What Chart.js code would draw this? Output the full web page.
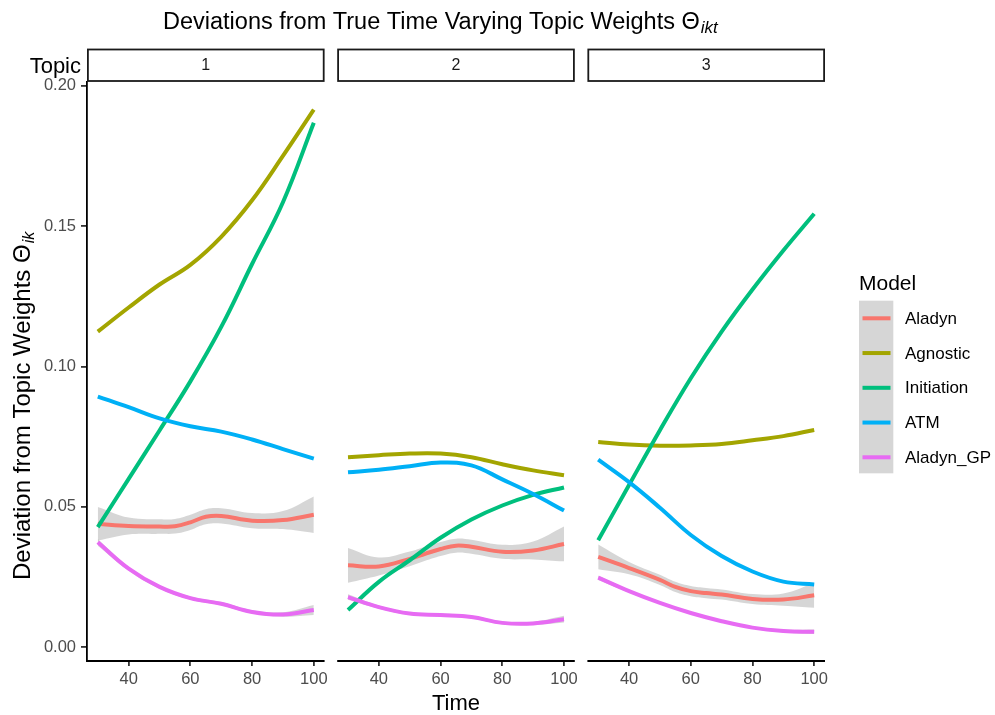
<!DOCTYPE html>
<html>
<head>
<meta charset="utf-8">
<script src="https://cdn.jsdelivr.net/npm/chart.js@4/dist/chart.umd.min.js"></script>
<style>
  html, body { margin: 0; padding: 0; background: #ffffff; }
  #wrap { position: relative; width: 995px; height: 715px; }
  canvas { display: block; }
</style>
</head>
<body>
<div id="wrap"><canvas id="c" width="995" height="715"></canvas></div>
<script>
// ---------------- data ----------------
const topics = ['1', '2', '3'];
const models = ['Aladyn', 'Agnostic', 'Initiation', 'ATM', 'Aladyn_GP'];
const modelColors = ['#F8766D', '#A3A500', '#00BF7D', '#00B0F6', '#E76BF3'];
const xTickValues = [40, 60, 80, 100];
const yTickValues = [0, 0.05, 0.10, 0.15, 0.20];

const time = [30, 40, 50, 60, 70, 80, 90, 100];
const timeFine = [30, 40, 50, 55, 60, 65, 70, 80, 90, 100];

// Topic 1
const aladyn1 = [0.0440, 0.0432, 0.0430, 0.0431, 0.0445, 0.0465, 0.0468, 0.0451, 0.0453, 0.0472];
const aladynSe1 = [0.0060, 0.0030, 0.0026, 0.0026, 0.0027, 0.0027, 0.0027, 0.0027, 0.0032, 0.0065];
const agnostic1 = [0.1124, 0.1210, 0.1292, 0.1362, 0.1462, 0.1592, 0.1750, 0.1915];
const initiation1 = [0.0428, 0.0600, 0.0772, 0.0947, 0.1141, 0.1365, 0.1585, 0.1868];
const atm1 = [0.0893, 0.0855, 0.0815, 0.0787, 0.0768, 0.0740, 0.0706, 0.0672];
const gp1 = [0.0374, 0.0280, 0.0215, 0.0175, 0.0155, 0.0126, 0.0117, 0.0133];
const gpSe1 = [0.0012, 0.0007, 0.0006, 0.0006, 0.0006, 0.0006, 0.0008, 0.0018];

// Topic 2
const aladyn2 = [0.0292, 0.0288, 0.0315, 0.0333, 0.0350, 0.0362, 0.0358, 0.0340, 0.0345, 0.0368];
const aladynSe2 = [0.0062, 0.0032, 0.0026, 0.0025, 0.0025, 0.0025, 0.0025, 0.0025, 0.0032, 0.0062];
const agnostic2 = [0.0677, 0.0684, 0.0690, 0.0690, 0.0677, 0.0652, 0.0630, 0.0613];
const initiation2 = [0.0133, 0.0233, 0.0310, 0.0390, 0.0455, 0.0505, 0.0543, 0.0569];
const atm2 = [0.0623, 0.0632, 0.0645, 0.0658, 0.0648, 0.0598, 0.0546, 0.0487];
const gp2 = [0.0179, 0.0143, 0.0120, 0.0115, 0.0108, 0.0087, 0.0085, 0.0100];
const gpSe2 = [0.0010, 0.0006, 0.0005, 0.0005, 0.0005, 0.0005, 0.0006, 0.0012];

// Topic 3
const aladyn3 = [0.0322, 0.0282, 0.0240, 0.0215, 0.0200, 0.0193, 0.0188, 0.0172, 0.0170, 0.0185];
const aladynSe3 = [0.0044, 0.0022, 0.0018, 0.0018, 0.0018, 0.0018, 0.0018, 0.0018, 0.0022, 0.0044];
const agnostic3 = [0.0731, 0.0722, 0.0718, 0.0719, 0.0724, 0.0737, 0.0752, 0.0774];
const initiation3 = [0.0381, 0.0578, 0.0773, 0.0958, 0.1124, 0.1274, 0.1413, 0.1544];
const atm3 = [0.0668, 0.0588, 0.0497, 0.0400, 0.0325, 0.0270, 0.0234, 0.0224];
const gp3 = [0.0248, 0.0200, 0.0158, 0.0122, 0.0093, 0.0070, 0.0058, 0.0055];
const gpSe3 = [0.0008, 0.0005, 0.0004, 0.0004, 0.0004, 0.0004, 0.0005, 0.0008];

// ---------------- facet geometry (x units) ----------------
const X_LO = 26.5, X_HI = 103.5;           // expanded time range of each panel
const PANEL_SPAN = X_HI - X_LO;            // 77
const GAP = 4.085;                         // gap between panels, in x units
const OFF = PANEL_SPAN + GAP;              // offset between panels
const X_MAX = X_LO + 3 * PANEL_SPAN + 2 * GAP;

const perTopic = [
  { aladyn: aladyn1, aladynSe: aladynSe1, agnostic: agnostic1, initiation: initiation1, atm: atm1, gp: gp1, gpSe: gpSe1 },
  { aladyn: aladyn2, aladynSe: aladynSe2, agnostic: agnostic2, initiation: initiation2, atm: atm2, gp: gp2, gpSe: gpSe2 },
  { aladyn: aladyn3, aladynSe: aladynSe3, agnostic: agnostic3, initiation: initiation3, atm: atm3, gp: gp3, gpSe: gpSe3 }
];

function pts(times, vals, k, sign, se) {
  return times.map((t, i) => ({ x: t + k * OFF, y: vals[i] + (se ? sign * se[i] : 0) }));
}

const BAND = 'rgba(153,153,153,0.4)';
const LW = 4;
const datasets = [];
perTopic.forEach((d, k) => {
  // Aladyn ribbon
  datasets.push({ data: pts(timeFine, d.aladyn, k, 1, d.aladynSe), borderWidth: 0, pointRadius: 0, fill: false, order: 20, tension: 0.4 });
  datasets.push({ data: pts(timeFine, d.aladyn, k, -1, d.aladynSe), borderWidth: 0, pointRadius: 0, fill: '-1', backgroundColor: BAND, order: 20, tension: 0.4 });
  // Aladyn line
  datasets.push({ data: pts(timeFine, d.aladyn, k), borderColor: modelColors[0], borderWidth: LW, pointRadius: 0, fill: false, order: 19, tension: 0.4 });
  datasets.push({ data: pts(time, d.agnostic, k), borderColor: modelColors[1], borderWidth: LW, pointRadius: 0, fill: false, order: 18, tension: 0.4 });
  datasets.push({ data: pts(time, d.initiation, k), borderColor: modelColors[2], borderWidth: LW, pointRadius: 0, fill: false, order: 17, tension: 0.4 });
  datasets.push({ data: pts(time, d.atm, k), borderColor: modelColors[3], borderWidth: LW, pointRadius: 0, fill: false, order: 16, tension: 0.4 });
  // Aladyn_GP ribbon + line
  datasets.push({ data: pts(time, d.gp, k, 1, d.gpSe), borderWidth: 0, pointRadius: 0, fill: false, order: 15, tension: 0.4 });
  datasets.push({ data: pts(time, d.gp, k, -1, d.gpSe), borderWidth: 0, pointRadius: 0, fill: '-1', backgroundColor: BAND, order: 15, tension: 0.4 });
  datasets.push({ data: pts(time, d.gp, k), borderColor: modelColors[4], borderWidth: LW, pointRadius: 0, fill: false, order: 14, tension: 0.4 });
});

const FONT = '"Liberation Sans", Arial, sans-serif';

// ---------------- decorations drawn from the scales ----------------
const facetPlugin = {
  id: 'facet',
  afterDraw(chart) {
    const ctx = chart.ctx;
    const xs = chart.scales.x;
    const area = chart.chartArea;
    ctx.save();

    // strips and per-panel x axis lines
    for (let k = 0; k < 3; k++) {
      const x0 = xs.getPixelForValue(X_LO + k * OFF);
      const x1 = xs.getPixelForValue(X_HI + k * OFF);
      ctx.strokeStyle = '#1a1a1a';
      ctx.lineWidth = 1.8;
      ctx.strokeRect(x0 + 0.9, 49.5, x1 - x0 - 1.8, 31.5);
      ctx.fillStyle = '#1a1a1a';
      ctx.font = '16px ' + FONT;
      ctx.textAlign = 'center';
      ctx.textBaseline = 'middle';
      ctx.fillText(topics[k], (x0 + x1) / 2, 65.5);

      ctx.strokeStyle = '#000000';
      ctx.lineWidth = 1.8;
      ctx.beginPath();
      ctx.moveTo(x0 - (k === 0 ? 0.9 : 0), area.bottom);
      ctx.lineTo(x1, area.bottom);
      ctx.stroke();
    }

    // "Topic" strip label
    ctx.fillStyle = '#000000';
    ctx.font = '22px ' + FONT;
    ctx.textAlign = 'right';
    ctx.textBaseline = 'alphabetic';
    ctx.fillText('Topic', 81, 73);

    // plot title with subscript
    ctx.textAlign = 'left';
    ctx.font = '23.5px ' + FONT;
    const tMain = 'Deviations from True Time Varying Topic Weights ';
    let tx = 163;
    ctx.fillText(tMain, tx, 28.5);
    tx += ctx.measureText(tMain).width;
    ctx.fillText('\u0398', tx, 28.5);
    tx += ctx.measureText('\u0398').width + 1;
    ctx.font = 'italic 17px ' + FONT;
    ctx.fillText('ikt', tx, 33);

    // x axis title
    ctx.font = '22px ' + FONT;
    ctx.textAlign = 'center';
    ctx.fillText('Time', (area.left + area.right) / 2, 710);

    // y axis title (rotated) with subscript
    ctx.save();
    ctx.translate(29.5, 580);
    ctx.rotate(-Math.PI / 2);
    ctx.textAlign = 'left';
    ctx.font = '24px ' + FONT;
    const yMain = 'Deviation from Topic Weights ';
    ctx.fillText(yMain, 0, 0);
    let yx = ctx.measureText(yMain).width;
    ctx.fillText('\u0398', yx, 0);
    yx += ctx.measureText('\u0398').width + 1;
    ctx.font = 'italic 16px ' + FONT;
    ctx.fillText('ik', yx, 4);
    ctx.restore();

    // legend
    ctx.font = '21px ' + FONT;
    ctx.textAlign = 'left';
    ctx.fillStyle = '#000000';
    ctx.fillText('Model', 859, 290);
    ctx.fillStyle = BAND;
    ctx.fillRect(859, 300.7, 34.3, 172.6);
    ctx.font = '17px ' + FONT;
    ctx.textBaseline = 'middle';
    models.forEach((m, i) => {
      const ky = 318.3 + i * 34.75;
      ctx.strokeStyle = modelColors[i];
      ctx.lineWidth = 4;
      ctx.beginPath();
      ctx.moveTo(862.5, ky);
      ctx.lineTo(890.5, ky);
      ctx.stroke();
      ctx.fillStyle = '#000000';
      ctx.fillText(m, 905, ky + 1);
    });

    ctx.restore();
  }
};

new Chart(document.getElementById('c'), {
  type: 'line',
  data: { datasets },
  options: {
    responsive: false,
    animation: false,
    devicePixelRatio: 1,
    layout: { padding: { top: 82, right: 170, bottom: 0, left: 0 } },
    plugins: { legend: { display: false }, tooltip: { enabled: false }, title: { display: false } },
    elements: { line: { capBezierPoints: true, borderCapStyle: 'butt' } },
    scales: {
      x: {
        type: 'linear',
        min: X_LO,
        max: X_MAX,
        afterFit(scale) { scale.height = 54; },
        afterBuildTicks(scale) {
          const t = [];
          for (let k = 0; k < 3; k++) xTickValues.forEach(v => t.push({ value: v + k * OFF }));
          scale.ticks = t;
        },
        border: { display: false },
        grid: { drawOnChartArea: false, drawTicks: true, tickLength: 5, tickColor: '#333333', tickWidth: 1.8, lineWidth: 1.8, color: '#333333' },
        ticks: {
          autoSkip: false,
          maxRotation: 0,
          padding: 4,
          color: '#4d4d4d',
          font: { family: FONT, size: 16.5 },
          callback(value) {
            const k = Math.floor((value - X_LO) / OFF);
            return String(Math.round(value - k * OFF));
          }
        }
      },
      y: {
        type: 'linear',
        min: -0.00488,
        max: 0.20132,
        afterFit(scale) { scale.width = 87; },
        afterBuildTicks(scale) { scale.ticks = yTickValues.map(v => ({ value: v })); },
        border: { display: true, color: '#000000', width: 1.8 },
        grid: { drawOnChartArea: false, drawTicks: true, tickLength: 6, tickColor: '#333333', tickWidth: 1.8, lineWidth: 1.8, color: '#333333' },
        ticks: {
          padding: 5,
          color: '#4d4d4d',
          font: { family: FONT, size: 16.5 },
          callback(value) { return value.toFixed(2); }
        }
      }
    }
  },
  plugins: [facetPlugin]
});
</script>
</body>
</html>
